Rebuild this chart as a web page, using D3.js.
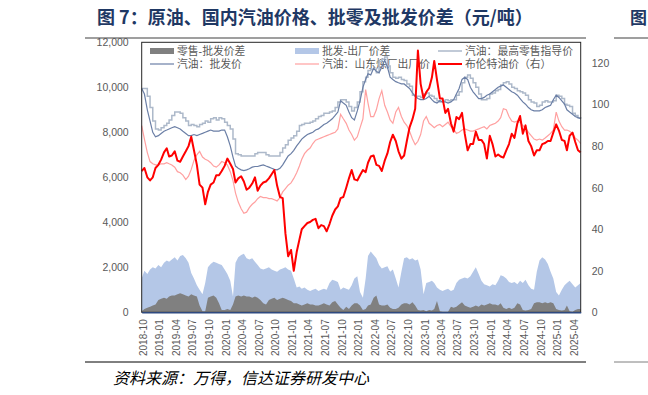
<!DOCTYPE html>
<html>
<head>
<meta charset="utf-8">
<script src="https://cdn.jsdelivr.net/npm/d3@7"></script>
<style>
  body { margin: 0; background: #fff; }
  svg text { font-family: "Liberation Sans", Arial, sans-serif; }
  svg .cn { font-family: "Noto Sans CJK SC", sans-serif; }
  svg .legend-text { font-family: "Liberation Sans", "Noto Sans CJK SC", sans-serif; }
</style>
</head>
<body>
<script>
// Page and plot area
let svgWidth = 648;
let svgHeight = 395;
let plot = { left: 141.7, right: 580.7, top: 42.3, bottom: 312.3 };

// Half-month observation dates, 2018-10-01 .. 2025-05-16
let dates = d3.range(160).map(i => new Date(2018, 9 + Math.floor(i / 2), i % 2 ? 16 : 1));

// Quarterly tick labels
let tickLabels = ["2018-10","2019-01","2019-04","2019-07","2019-10","2020-01","2020-04","2020-07","2020-10",
  "2021-01","2021-04","2021-07","2021-10","2022-01","2022-04","2022-07","2022-10","2023-01","2023-04",
  "2023-07","2023-10","2024-01","2024-04","2024-07","2024-10","2025-01","2025-04"];
let leftTicks = [0, 2000, 4000, 6000, 8000, 10000, 12000];
let rightTicks = [0, 20, 40, 60, 80, 100, 120];

// 零售-批发价差 (元/吨)
let retailSpread = [50,150, 200,250, 300,350, 550,600, 650,600, 700,750, 750,800, 850,800, 750,700, 800,750,
  700,300, 50,50, 650,700, 750,650, 400,100, 100,150, 100,350, 700,750, 700,750, 700,700,
  650,700, 650,550, 400,350, 550,600, 650,550, 600,650, 600,550, 500,400, 400,350, 300,350,
  400,350, 350,300, 300,350, 400,350, 300,450, 500,350, 200,100, 250,150, 300,400, 400,300,
  100,150, 300,350, 650,750, 350,300, 300,350, 200,150, 150,200, 350,400, 400,350, 450,300,
  100,80, 100,50, 100,80, 150,500, 50,20, 30,30, 250,200, 250,350, 450,300, 250,200,
  250,300, 250,350, 300,350, 400,350, 350,300, 400,200, 150,200, 150,200, 400,350, 100,80,
  100,150, 400,450, 450,400, 450,400, 450,400, 150,100, 80,100, 300,50, 30,100, 150,150];

// 批发-出厂价差 (元/吨)
let wholesaleSpread = [1500,1850, 1700,1900, 2000,1950, 2100,2000, 2200,2300, 2250,2350, 2450,2300, 2500,2550, 2400,2200, 1750,1500,
  1200,1000, 800,1300, 2000,2150, 2250,2200, 2150,2100, 1900,1700, 1400,700, 2200,2450, 2550,2600, 2400,2350,
  2400,2250, 2100,1950, 1900,1950, 2000,1900, 1850,1800, 1900,1950, 2000,1900, 1850,1500, 1100,1150, 1050,1100,
  1000,950, 1000,1050, 950,1000, 1050,1000, 1300,1450, 1400,1350, 1000,1100, 1050,1000, 1200,1500, 1600,900,
  650,1500, 2500,2700, 2550,2400, 2100,1950, 2000,2050, 1800,1900, 1500,1100, 1800,2400, 2450,2350, 2400,2300,
  2350,1900, 800,1300, 1350,1400, 1300,1100, 1000,950, 1000,1050, 950,1000, 1300,1450, 1500,1550, 1500,1600,
  1800,2000, 1700,1400, 1250,1200, 1150,1250, 1200,1400, 1650,1600, 1500,1350, 1300,1350, 1250,1400, 1300,1450,
  1200,1050, 1000,1800, 2300,2450, 2350,2150, 1800,1500, 900,750, 1000,1200, 1300,1400, 1250,1100, 1200,1300];

// 汽油：最高零售指导价 (元/吨)
let retailPrice = [9950,9950, 9600,9100, 8500,8150, 8100,8200, 8300,8400, 8550,8750, 8900,8900, 8850,8650, 8500,8300, 8350,8300,
  8250,8350, 8400,8500, 8450,8600, 8650,8550, 8650,8600, 8450,8300, 8150,7700, 7050,7000, 6950,6950, 6950,6950,
  6950,7050, 7100,7100, 7100,7000, 6950,6950, 6950,6950, 7100,7300, 7450,7650, 7750,7850, 8050,8300, 8350,8400,
  8400,8450, 8500,8600, 8700,8750, 8850,8850, 8900,8950, 9100,9350, 9450,9450, 9350,9150, 8950,9100, 9350,9800,
  10250,10450, 10750,10800, 10800,10650, 11150,11250, 11350,10950, 10650,10450, 10400,10450, 10350,10300, 10150,10050, 9650,9600,
  9600,9550, 9700,9750, 9650,9600, 9500,9400, 9350,9400, 9450,9400, 9450,9450, 9650,9800, 10200,10450, 10550,10400,
  10200,10000, 9700,9450, 9450,9500, 9700,9750, 9850,9900, 10100,10200, 10250,10150, 10000,9950, 9850,9800, 9750,9650,
  9450,9350, 9300,9150, 9200,9350, 9400,9350, 9350,9400, 9650,9600, 9500,9250, 9200,9150, 8850,8750, 8650,8600];

// 汽油：批发价 (元/吨)
let wholesalePrice = [9950,9700, 9000,8500, 8000,7800, 7850,7950, 8050,8100, 8150,8200, 8250,8200, 8150,8050, 7950,7850, 7850,7900,
  7850,7900, 7950,8000, 8050,8100, 8050,8050, 8050,8100, 8100,7800, 7400,6900, 6500,6400, 6330,6300, 6330,6380,
  6450,6480, 6480,6520, 6550,6500, 6450,6400, 6350,6330, 6400,6550, 6750,6950, 7050,7200, 7400,7550, 7700,7800,
  7900,7950, 8000,8100, 8150,8250, 8350,8400, 8500,8600, 8750,8900, 9400,9300, 9200,8900, 8650,8550, 8950,9400,
  10000,10350, 10600,10550, 10850,10700, 10650,10900, 11200,10900, 10450,10350, 10250,10200, 10150,10150, 10050,9950, 9750,9600,
  9500,9450, 9450,9500, 9600,9450, 9350,9300, 9400,9350, 9350,9300, 9350,9450, 9700,9950, 10350,10450, 10350,10000,
  9800,9650, 9500,9500, 9550,9650, 9700,9800, 9900,10000, 10050,10100, 10000,9900, 9800,9750, 9650,9500, 9350,9250,
  9100,9000, 8950,8950, 8950,9000, 9100,9150, 9200,9450, 9650,9550, 9400,9250, 9000,8900, 8800,8700, 8650,8600];

// 汽油：山东炼厂出厂价 (元/吨)
let shandongPrice = [8300,7700, 7100,6700, 6600,6550, 6550,6600, 6600,6650, 6600,6550, 6450,6250, 6200,6100, 5900,6050, 6350,6750,
  7000,7150, 6900,6800, 6750,6650, 6500,6450, 6550,6700, 6650,6550, 6250,5850, 5300,4900, 4600,4400, 4450,4650,
  4800,4900, 5050,5150, 5100,5100, 5050,5050, 5000,4950, 5100,5350, 5500,5650, 5750,5950, 6200,6500, 6800,7050,
  7200,7300, 7500,7650, 7700,7750, 7800,7850, 7900,7950, 8000,8150, 8800,8600, 8400,8100, 7900,7650, 7800,8200,
  8600,9900, 9300,8700, 8700,9000, 9500,9850, 9200,8900, 8550,8400, 8900,9100, 8700,8450, 8300,8050, 7700,7450,
  7600,7900, 8500,8700, 8400,8300, 8200,8300, 8350,8250, 8350,8450, 8250,8150, 7950,8000, 8100,8150, 8100,8050,
  8050,8100, 8150,8200, 8250,8150, 8300,8350, 8400,8500, 8650,9050, 9000,8700, 8500,8450, 8500,8450, 8300,8200,
  8000,7850, 7700,7650, 7700,7650, 7750,7850, 7950,8100, 8900,8500, 8250,8100, 8100,8050, 7950,7750, 7650,7500];

// 布伦特油价 (美元/桶, 右轴)
let brentPrice = [68,69.5, 65,63.5, 65,69.5, 71,73.5, 77,79, 75,75.5, 77.5,73, 72.5,75, 77.5,80, 84.5,78,
  71,61.5, 60,52, 58,61.5, 62.5,66, 66,68, 70.5,74, 71.5,69, 62.5,64.5, 65.5,63, 59,60,
  62,65, 58.5,61, 62.5,63, 64.5,66.5, 68.5,61, 55.5,55, 38,27, 30,20, 29,35, 40,41.5,
  43,43.5, 44.5,45, 40.5,42, 41.5,39, 42.5,46.5, 49.5,51, 55,55.5, 60,64.5, 68.5,64, 63.5,66,
  68.5,67.5, 72,75, 75.5,71, 70.5,68, 73,76.5, 82,85.5, 82.5,77.5, 74,75.5, 82.5,89, 93,98,
  126,110, 103,106, 108,113, 121,112, 103,103, 96,98, 91,87, 94,93, 96,86, 78,81,
  81,87, 83,83, 81,74, 85,81, 75,76, 75,74.5, 78,81, 86,84, 91,94.5, 86,90,
  82.5,80, 75.5,78, 78,81, 81.5,82.5, 82.5,86.5, 90.5,87.5, 83,82.5, 78,85, 86.5,82, 78,77];

let svg = d3.select("body").append("svg")
  .attr("width", svgWidth)
  .attr("height", svgHeight);

// Title, rules and source note
svg.append("text").attr("class", "cn")
  .attr("x", 97).attr("y", 24)
  .attr("font-size", 18).attr("font-weight", "bold").attr("fill", "#1f3864")
  .text("图 7：原油、国内汽油价格、批零及批发价差（元/吨）");
svg.append("text").attr("class", "cn")
  .attr("x", 630).attr("y", 24)
  .attr("font-size", 17).attr("font-weight", "bold").attr("fill", "#1f3864")
  .text("图");
[[85, 586, 38, "#7f7f7f", 1.5], [614, 648, 38, "#7f7f7f", 1.5],
 [85, 586, 362, "#000", 1], [614, 648, 362, "#7f7f7f", 1]].forEach(r => {
  svg.append("line").attr("x1", r[0]).attr("x2", r[1]).attr("y1", r[2]).attr("y2", r[2])
    .attr("stroke", r[3]).attr("stroke-width", r[4]);
});
svg.append("text").attr("class", "cn")
  .attr("x", 113).attr("y", 384)
  .attr("font-size", 16).attr("font-style", "italic").attr("fill", "#000")
  .text("资料来源：万得，信达证券研发中心");

// Scales
let xScale = d3.scaleTime()
  .domain([dates[0], dates[dates.length - 1]])
  .range([plot.left, plot.right]);
let yLeft = d3.scaleLinear().domain([0, 12000]).range([plot.bottom, plot.top]);
let yRight = d3.scaleLinear().domain([0, 130]).range([plot.bottom, plot.top]);

// Legend (drawn under the lines, as in the source)
let legendItems = [
  { name: "零售-批发价差", kind: "box", color: "#808080", x: 150, y: 51 },
  { name: "批发-出厂价差", kind: "box", color: "#b4c7e7", x: 295, y: 51 },
  { name: "汽油：最高零售指导价", kind: "line", color: "#adb9ca", w: 1.5, x: 438, y: 51 },
  { name: "汽油：批发价", kind: "line", color: "#6b7fa6", w: 1.2, x: 150, y: 64 },
  { name: "汽油：山东炼厂出厂价", kind: "line", color: "#ffa0a0", w: 1.2, x: 295, y: 64 },
  { name: "布伦特油价（右）", kind: "line", color: "#ff0000", w: 2, x: 438, y: 64 }
];
let legend = svg.append("g");
legendItems.forEach(d => {
  if (d.kind === "box") {
    legend.append("rect").attr("x", d.x).attr("y", d.y - 3).attr("width", 24).attr("height", 6).attr("fill", d.color);
  } else {
    legend.append("line").attr("x1", d.x).attr("x2", d.x + 24).attr("y1", d.y).attr("y2", d.y)
      .attr("stroke", d.color).attr("stroke-width", d.w);
  }
  legend.append("text").attr("class", "legend-text")
    .attr("x", d.x + 27).attr("y", d.y).attr("dy", "0.35em")
    .attr("font-size", 10.8).attr("fill", "#595959")
    .text(d.name);
});

// Spread areas
let area = values => d3.area()
  .x((d, i) => xScale(dates[i]))
  .y0(yLeft(0))
  .y1(d => yLeft(d))(values);
svg.append("path").attr("d", area(wholesaleSpread)).attr("fill", "#b4c7e7");
svg.append("path").attr("d", area(retailSpread)).attr("fill", "#808080");

// Price lines
let leftLine = d3.line().x((d, i) => xScale(dates[i])).y(d => yLeft(d));
svg.append("path").attr("d", leftLine.curve(d3.curveStepAfter)(retailPrice))
  .attr("fill", "none").attr("stroke", "#adb9ca").attr("stroke-width", 1.5);
svg.append("path").attr("d", leftLine.curve(d3.curveLinear)(wholesalePrice))
  .attr("fill", "none").attr("stroke", "#6b7fa6").attr("stroke-width", 1.2);
svg.append("path").attr("d", leftLine(shandongPrice))
  .attr("fill", "none").attr("stroke", "#ffa0a0").attr("stroke-width", 1.2);
let rightLine = d3.line().x((d, i) => xScale(dates[i])).y(d => yRight(d));
svg.append("path").attr("d", rightLine(brentPrice))
  .attr("fill", "none").attr("stroke", "#ff0000").attr("stroke-width", 2).attr("stroke-linejoin", "round");

// Plot frame
svg.append("rect")
  .attr("x", plot.left).attr("y", plot.top)
  .attr("width", plot.right - plot.left).attr("height", plot.bottom - plot.top)
  .attr("fill", "none").attr("stroke", "#262626").attr("stroke-width", 1);

// Axes
let parseMonth = d3.timeParse("%Y-%m");
let xAxis = svg.append("g")
  .attr("transform", `translate(0, ${plot.bottom})`)
  .call(d3.axisBottom(xScale)
    .tickValues(tickLabels.map(parseMonth))
    .tickFormat(d3.timeFormat("%Y-%m"))
    .tickSize(0));
xAxis.select(".domain").attr("stroke", "#2f4a80").attr("stroke-width", 1.5);
xAxis.selectAll("text")
  .attr("transform", "rotate(-90)")
  .attr("x", -7).attr("y", 1).attr("dy", "0.35em")
  .attr("text-anchor", "end")
  .attr("font-size", 10).attr("fill", "#595959");

let leftAxis = svg.append("g")
  .attr("transform", `translate(${plot.left}, 0)`)
  .call(d3.axisLeft(yLeft).tickValues(leftTicks).tickFormat(d3.format(",")).tickSize(0).tickPadding(13));
leftAxis.select(".domain").remove();
leftAxis.selectAll("text").attr("font-size", 10.5).attr("fill", "#595959");

let rightAxis = svg.append("g")
  .attr("transform", `translate(${plot.right}, 0)`)
  .call(d3.axisRight(yRight).tickValues(rightTicks).tickSize(0).tickPadding(11));
rightAxis.select(".domain").remove();
rightAxis.selectAll("text").attr("font-size", 10.5).attr("fill", "#595959");
</script>
</body>
</html>
